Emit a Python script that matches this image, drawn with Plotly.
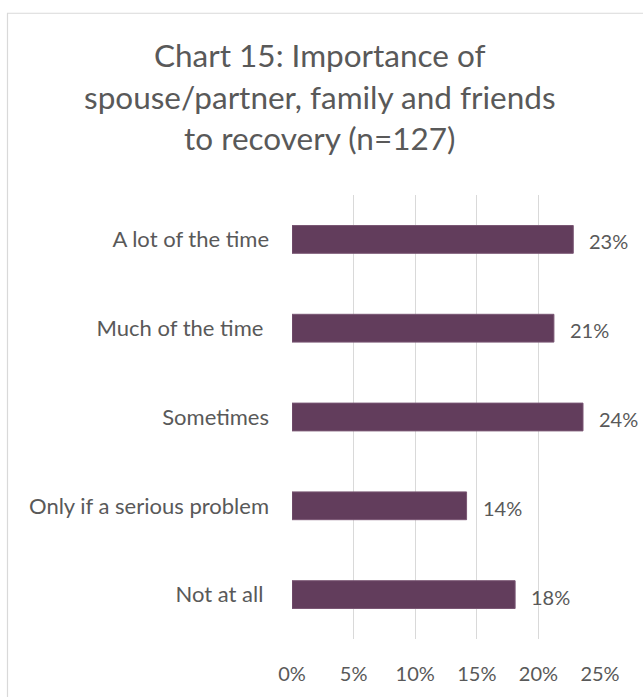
import plotly.graph_objects as go

# Survey responses (share of n=127), top to bottom
categories = ["A lot of the time", "Much of the time ", "Sometimes",
              "Only if a serious problem", "Not at all "]
shares = [0.2283, 0.2126, 0.2362, 0.1417, 0.1811]
title_lines = ["Chart 15: Importance of",
               "spouse/partner, family and friends",
               "to recovery (n=127)"]
x_ticks = [0, 0.05, 0.10, 0.15, 0.20, 0.25]
x_tick_labels = ["0%", "5%", "10%", "15%", "20%", "25%"]

W, H = 643, 697
L, R, T, B = 292, 43, 195, 55
pw, ph = W - L - R, H - T - B

FONT = "Lato"
TXT = "#595959"
BAR = "#623d5c"

fig = go.Figure()
fig.add_trace(go.Bar(
    x=shares, y=categories, orientation="h",
    marker=dict(color=BAR, line=dict(color="#7a5774", width=1)),
    hoverinfo="skip",
))

# Percent labels beside each bar end
for cat, v in zip(categories, shares):
    fig.add_annotation(x=v, y=cat, xref="x", yref="y",
                       text=f"{v:.0%}", showarrow=False,
                       xanchor="left", yanchor="middle", xshift=14, yshift=-2,
                       font=dict(family=FONT, size=20, color=TXT))

# Title lines
for i, line in enumerate(title_lines):
    ypix = 54 + 42 * i
    fig.add_annotation(x=(W / 2 - 2 - L) / pw, y=1 + (T - ypix) / ph,
                       xref="paper", yref="paper", text=line, showarrow=False,
                       xanchor="center", yanchor="middle",
                       font=dict(family=FONT, size=31.5, color=TXT))

# Chart area frame
fig.add_shape(type="rect", xref="paper", yref="paper",
              x0=(7.5 - L) / pw, x1=(W + 10 - L) / pw,
              y0=(H - B - (H + 10)) / ph, y1=1 + (T - 12) / ph,
              line=dict(color="#d9d9d9", width=1.2), layer="below")

fig.update_layout(
    width=W, height=H,
    margin=dict(l=L, r=R, t=T, b=B),
    paper_bgcolor="white", plot_bgcolor="white",
    showlegend=False,
    bargap=0.687,
    font=dict(family=FONT, size=20, color=TXT),
    xaxis=dict(range=[0, 0.25], tickvals=x_ticks, ticktext=x_tick_labels,
               showgrid=True, gridcolor="#d9d9d9", gridwidth=1.2,
               zeroline=False, showline=False, ticks="",
               ticklabelstandoff=21, fixedrange=True,
               tickfont=dict(family=FONT, size=20, color=TXT)),
    yaxis=dict(autorange="reversed", showgrid=False, zeroline=False,
               showline=False, ticks="", ticklabelstandoff=22,
               fixedrange=True,
               tickfont=dict(family=FONT, size=22, color=TXT)),
)

fig.write_html("out.html")
